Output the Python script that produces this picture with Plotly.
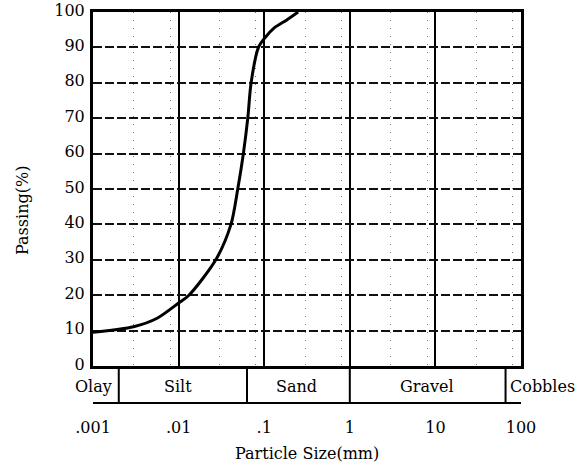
import math
import plotly.graph_objects as go

# Grain-size distribution curve (particle diameter in mm, percent passing)
grain_size_mm = [0.001, 0.00298, 0.00561, 0.0100, 0.0132, 0.0272, 0.0409,
                 0.0491, 0.0571, 0.0643, 0.0703, 0.0857, 0.101, 0.131,
                 0.182, 0.249]
percent_passing = [9.5, 11.1, 13.5, 17.8, 20.0, 30.0, 40.0,
                   50.0, 60.0, 70.0, 80.0, 90.0, 92.6, 95.5,
                   97.7, 100.0]

# Axis ticks
x_range_log = [-3, 2]
x_tickvals = [0.001, 0.01, 0.1, 1, 10, 100]
x_ticktext = [".001", ".01", ".1", "1", "10", "100"]
y_tickvals = [0, 10, 20, 30, 40, 50, 60, 70, 80, 90, 100]
minor_x = [m * 10.0 ** e for e in range(-3, 2) for m in (3, 8)]

# Soil classification band under the chart
band_bounds_mm = [0.002, 0.063, 1, 66]
band_names = ["Olay", "Silt", "Sand", "Gravel", "Cobbles"]
band_label_mm = [0.001, 0.00985, 0.241, 7.98, 176.0]

FONT = "DejaVu Serif"
FONT_SIZE = 16
BAND_Y = -0.1045


def log_to_paper(v):
    lo, hi = x_range_log
    return (math.log10(v) - lo) / (hi - lo)


fig = go.Figure()
fig.add_trace(go.Scatter(
    x=grain_size_mm, y=percent_passing, mode="lines",
    line=dict(color="black", width=3, shape="spline", smoothing=0.8),
    hoverinfo="skip", showlegend=False,
))

shapes = [dict(type="line", xref="x", yref="paper",
               x0=x_tickvals[0], x1=x_tickvals[-1], y0=BAND_Y, y1=BAND_Y,
               line=dict(color="black", width=2))]
for b in band_bounds_mm:
    shapes.append(dict(type="line", xref="x", yref="paper",
                       x0=b, x1=b, y0=0, y1=BAND_Y,
                       line=dict(color="black", width=2)))

label_font = dict(family=FONT, size=FONT_SIZE, color="black")
annotations = []
for name, pos in zip(band_names, band_label_mm):
    annotations.append(dict(text=name, x=log_to_paper(pos), xref="paper",
                            y=-0.059, yref="paper", showarrow=False,
                            xanchor="center", yanchor="middle",
                            font=label_font))
annotations.append(dict(text="Passing(%)", x=-0.1636, xref="paper",
                        y=0.4407, yref="paper", textangle=-90,
                        showarrow=False, xanchor="center", yanchor="middle",
                        font=label_font))
annotations.append(dict(text="Particle Size(mm)", x=0.5, xref="paper",
                        y=-0.2458, yref="paper", showarrow=False,
                        xanchor="center", yanchor="middle",
                        font=label_font))

fig.update_layout(
    width=577, height=468,
    margin=dict(l=93, r=56, t=12, b=102),
    paper_bgcolor="white", plot_bgcolor="white",
    font=dict(family=FONT, size=FONT_SIZE, color="black"),
    shapes=shapes, annotations=annotations,
    xaxis=dict(
        type="log", range=x_range_log, automargin=False,
        tickvals=x_tickvals, ticktext=x_ticktext,
        showgrid=True, gridcolor="black", gridwidth=1.5,
        showline=True, linecolor="black", linewidth=2.5, mirror=True,
        ticks="", ticklabelstandoff=45, zeroline=False,
        minor=dict(tickvals=minor_x, showgrid=True, gridcolor="#777",
                   griddash="1px,7px", gridwidth=1, ticks=""),
    ),
    yaxis=dict(
        range=[0, 100], tickvals=y_tickvals, automargin=False,
        showgrid=True, gridcolor="#111", gridwidth=1.5, griddash="9px,3px",
        showline=True, linecolor="black", linewidth=3, mirror=True,
        ticks="", ticklabelstandoff=2, ticklabelshift=-2, zeroline=False,
    ),
)

fig.write_html("out.html")
